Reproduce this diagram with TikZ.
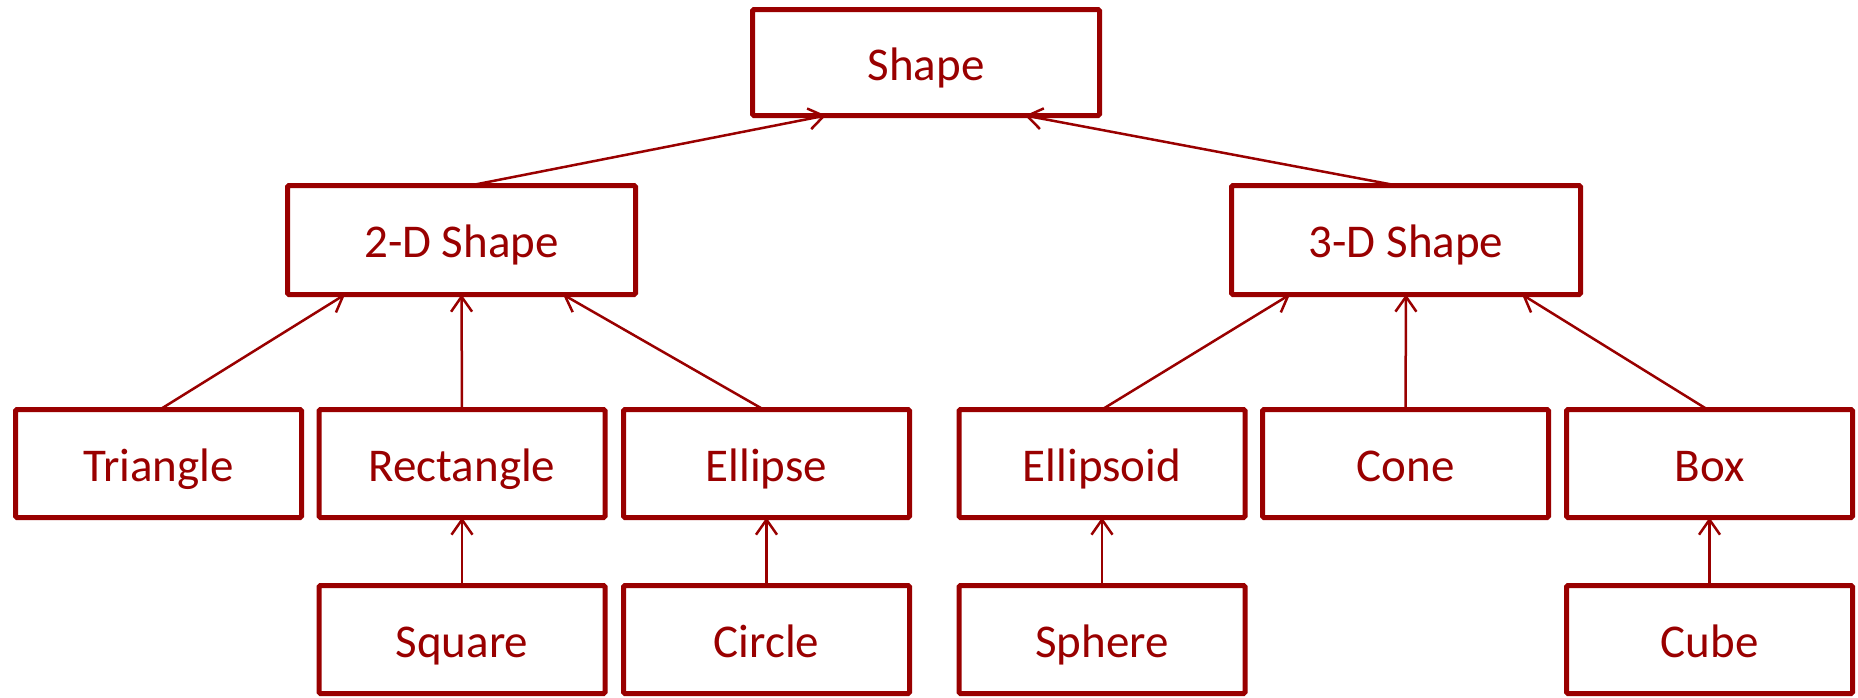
\documentclass[tikz,border=0pt]{standalone}
\usepackage{fontspec}
\setmainfont{Carlito}
\usetikzlibrary{arrows.meta}
\definecolor{dred}{HTML}{990000}
\tikzset{
  box/.style={draw=dred, line width=5pt, rounded corners=1.5pt, rectangle, inner sep=0pt, outer sep=0pt,
    text=dred, font=\fontsize{47}{56}\selectfont, text height=35pt, text depth=0pt},
  bigbox/.style={box, minimum width=348pt, minimum height=109pt},
  smallbox/.style={box, minimum width=286pt, minimum height=108pt},
  link/.style={draw=dred, line width=2.5pt, -{Straight Barb[length=15pt,width=21pt,line width=2.5pt]}}
}
\begin{document}
\begin{tikzpicture}[x=1pt,y=-1pt]
\useasboundingbox (0,0) rectangle (1858,697);
% level 1
\node[bigbox, minimum width=347pt, minimum height=106pt] (shape) at (926,62.5) {Shape};
% level 2
\node[bigbox] (d2) at (461.5,240) {2-D Shape};
\node[bigbox, minimum width=349pt] (d3) at (1406,240) {3-D Shape};
% level 3
\node[smallbox] (tri) at (158.5,463.5) {Triangle};
\node[smallbox] (rect) at (462,463.5) {Rectangle};
\node[smallbox] (ell) at (766.5,463.5) {Ellipse};
\node[smallbox] (ellz) at (1102,463.5) {Ellipsoid};
\node[smallbox] (cone) at (1405.5,463.5) {Cone};
\node[smallbox] (box) at (1709.5,463.5) {Box};
% level 4
\node[smallbox] (sq) at (462,639.5) {Square};
\node[smallbox] (circ) at (766.5,639.5) {Circle};
\node[smallbox] (sph) at (1102,639.5) {Sphere};
\node[smallbox] (cube) at (1709.5,639.5) {Cube};
% connectors
\draw[link] ([xshift=8.5pt]d2.north) -- ([xshift=-100pt]shape.south);
\draw[link] ([xshift=-9pt]d3.north) -- ([xshift=99pt]shape.south);
\draw[link] ([xshift=1.5pt]tri.north) -- ([xshift=-116.5pt]d2.south);
\draw[link] (rect.north) -- (d2.south);
\draw[link] ([xshift=-3pt]ell.north) -- ([xshift=101.5pt]d2.south);
\draw[link] (ellz.north) -- ([xshift=-116pt]d3.south);
\draw[link] (cone.north) -- (d3.south);
\draw[link] ([xshift=-2pt]box.north) -- ([xshift=116pt]d3.south);
\draw[link] (sq.north) -- (rect.south);
\draw[link] (circ.north) -- (ell.south);
\draw[link] (sph.north) -- (ellz.south);
\draw[link] (cube.north) -- (box.south);
\end{tikzpicture}
\end{document}
